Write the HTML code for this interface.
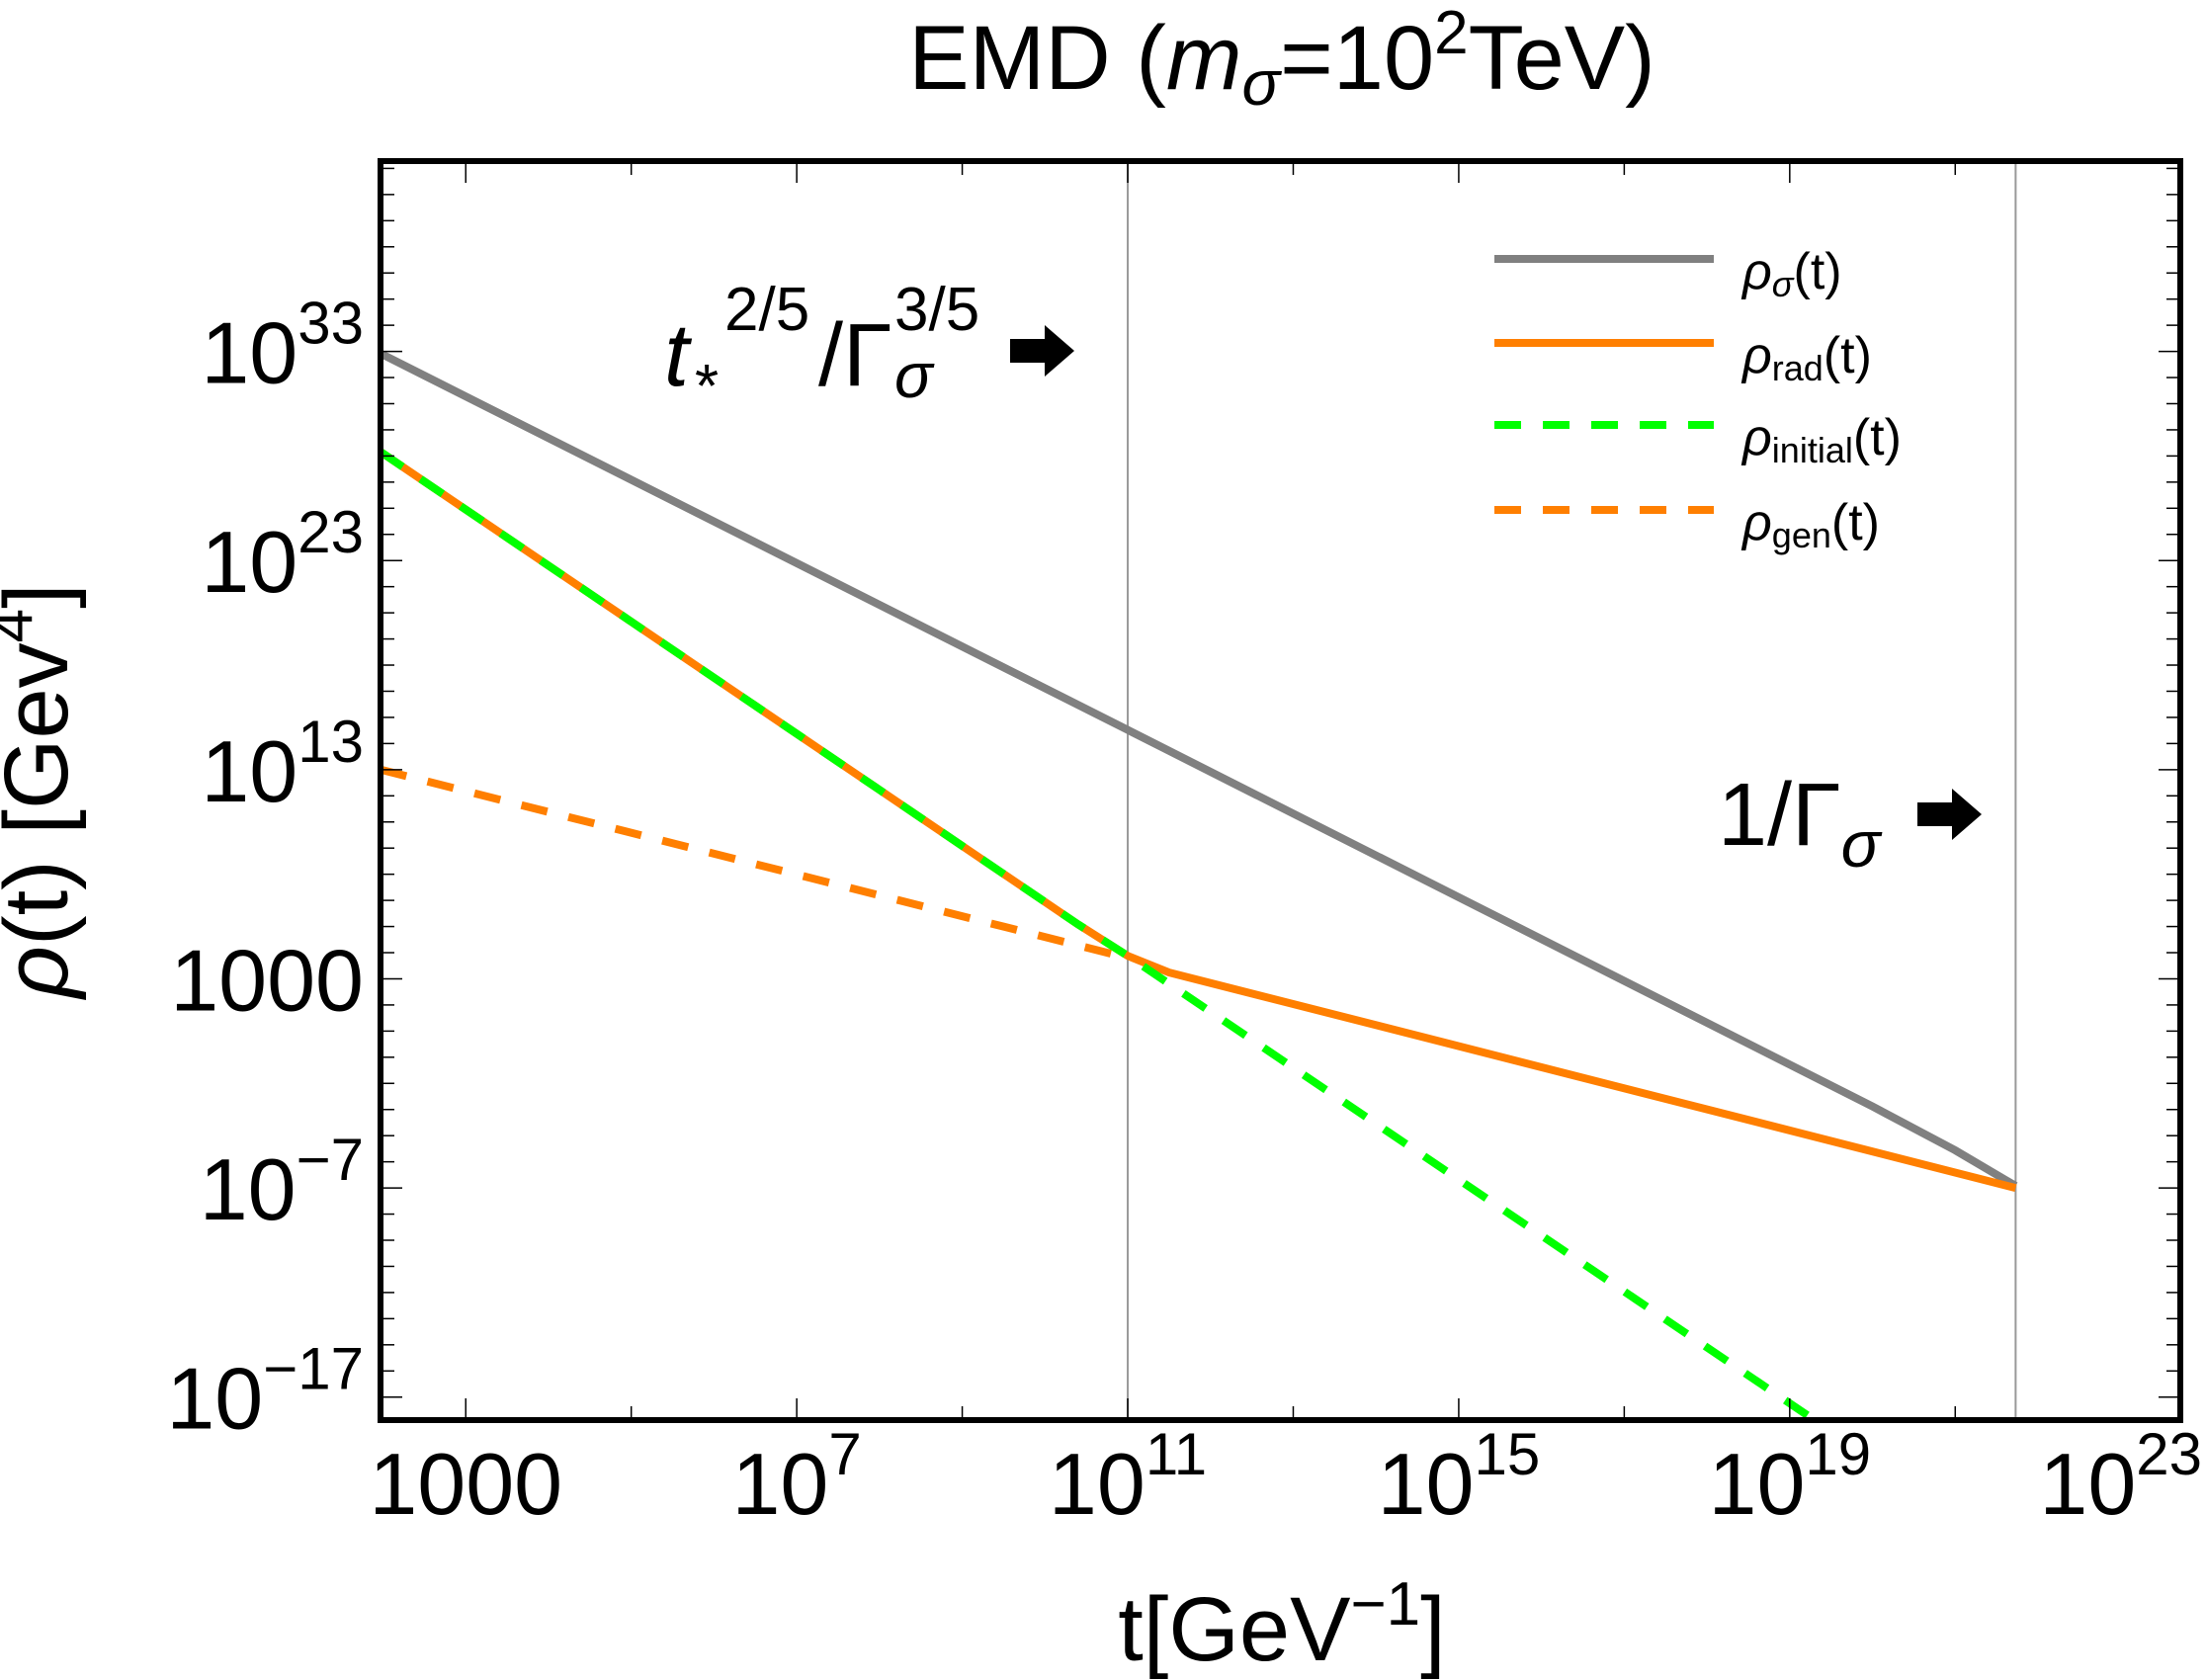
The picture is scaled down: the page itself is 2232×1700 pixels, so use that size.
<!DOCTYPE html>
<html><head><meta charset="utf-8"><style>
html,body{margin:0;padding:0;background:#fff;}
svg{display:block;font-family:"Liberation Sans",sans-serif;}
</style></head><body>
<svg id="chart" width="2232" height="1700" viewBox="0 0 2232 1700">
<g id="grid"></g>
<g id="series"></g>
<g id="frame"></g>
<text x="1297" y="90" font-size="92" text-anchor="middle">EMD (<tspan font-style="italic">m</tspan><tspan font-style="italic" font-size="64" dy="16">σ</tspan><tspan dy="-16">=10</tspan><tspan font-size="62" dy="-36">2</tspan><tspan dy="36">TeV)</tspan></text>
<text x="68" y="800" font-size="92" text-anchor="middle" transform="rotate(-90 68 800)"><tspan font-style="italic">ρ</tspan>(t) [Gev<tspan font-size="62" dy="-36">4</tspan><tspan dy="36">]</tspan></text>
<text x="1297" y="1680" font-size="92" text-anchor="middle">t[GeV<tspan font-size="62" dy="-36">−1</tspan><tspan dy="36">]</tspan></text>
<g font-size="90">
<text x="672" y="390" font-style="italic">t</text>
<text x="703" y="412" font-size="62">*</text>
<text x="733" y="334" font-size="62">2/5</text>
<text x="828" y="390">/Γ</text>
<text x="905" y="334" font-size="62">3/5</text>
<text x="905" y="402" font-size="64" font-style="italic">σ</text>
<polygon points="1022,343 1057,343 1057,329 1087,355 1057,381 1057,367 1022,367" fill="#000"/>
</g>
<g>
<text x="1738" y="855" font-size="90">1/Γ<tspan font-size="66" font-style="italic" dy="22">σ</tspan></text>
<polygon points="1940,812 1975,812 1975,798 2005,824 1975,850 1975,836 1940,836" fill="#000"/>
</g>
<g id="legend">
<line x1="1512" y1="262" x2="1734" y2="262" stroke="#808080" stroke-width="8"/>
<text x="1763" y="292" font-size="52"><tspan font-style="italic">ρ</tspan><tspan font-style="italic" font-size="36" dy="8">σ</tspan><tspan dy="-8">(t)</tspan></text>
<line x1="1512" y1="347" x2="1734" y2="347" stroke="#ff7f00" stroke-width="8"/>
<text x="1763" y="377" font-size="52"><tspan font-style="italic">ρ</tspan><tspan font-size="36" dy="8">rad</tspan><tspan dy="-8">(t)</tspan></text>
<line x1="1512" y1="430" x2="1734" y2="430" stroke="#00ff00" stroke-width="8" stroke-dasharray="27,22"/>
<text x="1763" y="460" font-size="52"><tspan font-style="italic">ρ</tspan><tspan font-size="36" dy="8">initial</tspan><tspan dy="-8">(t)</tspan></text>
<line x1="1512" y1="516" x2="1734" y2="516" stroke="#ff7f00" stroke-width="8" stroke-dasharray="27,22"/>
<text x="1763" y="546" font-size="52"><tspan font-style="italic">ρ</tspan><tspan font-size="36" dy="8">gen</tspan><tspan dy="-8">(t)</tspan></text>
</g>
</svg>
<script>
const xTickExps = [3, 7, 11, 15, 19, 23];
const xTickLabels = ["1000", "10", "10", "10", "10", "10"];
const xTickSups = ["", "7", "11", "15", "19", "23"];
const yTickExps = [33, 23, 13, 3, -7, -17];
const yTickLabels = ["10", "10", "10", "1000", "10", "10"];
const yTickSups = ["33", "23", "13", "", "−7", "−17"];
const vLines = [11, 21.73];
const sigmaLogT = [1.97, 11, 20, 21, 21.73];
const sigmaLogRho = [32.9, 14.9, -3.1, -5.2, -6.9];
const radLogT = [1.97, 10.4, 11, 11.5, 12, 21.73];
const radLogRho = [28.2, 5.6, 4.1, 3.3, 2.8, -7.0];
const initLogT = [1.97, 10.4, 11, 19.3];
const initLogRho = [28.2, 5.6, 4.1, -18.1];
const genLogT = [1.97, 11];
const genLogRho = [13.0, 4.0];

const L=385,R=2206,T=163,B=1437;
const xMin=1.97,xMax=23.72,yMin=-18.1,yMax=42.1;
const X=v=>L+(v-xMin)/(xMax-xMin)*(R-L);
const Y=v=>B-(v-yMin)/(yMax-yMin)*(B-T);
const NS="http://www.w3.org/2000/svg";
function mk(tag,attrs,parent){const e=document.createElementNS(NS,tag);for(const k in attrs)e.setAttribute(k,attrs[k]);parent.appendChild(e);return e;}
const grid=document.getElementById('grid'),series=document.getElementById('series'),frame=document.getElementById('frame');

vLines.forEach((v,i)=>{
  const l=mk('line',{x1:X(v),x2:X(v),y1:T,y2:B,stroke:'#999',"stroke-width":2},grid);
  
  
});

const cp=mk('clipPath',{id:'clip'},series);
mk('rect',{x:L,y:T,width:R-L,height:B-T},cp);
series.setAttribute('clip-path','url(#clip)');
function path(xs,ys,attrs,name){
  let d='';xs.forEach((x,i)=>{d+=(i?'L':'M')+X(x).toFixed(1)+','+Y(Math.max(ys[i],yMin)).toFixed(1);});
  const p=mk('path',Object.assign({d:d,fill:'none'},attrs),series);
  
  
}
path(sigmaLogT,sigmaLogRho,{stroke:'#808080','stroke-width':8},'series-rho-sigma');
path(genLogT,genLogRho,{stroke:'#ff7f00','stroke-width':8,'stroke-dasharray':'27,22'},'series-rho-gen');
path(radLogT,radLogRho,{stroke:'#ff7f00','stroke-width':8},'series-rho-rad');
path(initLogT,initLogRho,{stroke:'#00ff00','stroke-width':8,'stroke-dasharray':'27,22'},'series-rho-initial');

const fr=mk('rect',{x:L,y:T,width:R-L,height:B-T,fill:'none',stroke:'#000','stroke-width':6},frame);


for(let e=4;e<=23;e+=2){const x=X(e-1);const major=(e-1)%4===3;
  mk('line',{x1:x,x2:x,y1:B,y2:B-(major?22:14),stroke:'#000','stroke-width':1.5},frame);
  mk('line',{x1:x,x2:x,y1:T,y2:T+(major?22:14),stroke:'#000','stroke-width':1.5},frame);}
for(let v=-17-1.25;v<=42;v+=1.25){if(v<yMin||v>yMax)continue;const y=Y(v);const major=Math.abs(((v+17)%10+10)%10)<0.01;
  mk('line',{x1:L,x2:L+(major?22:14),y1:y,y2:y,stroke:'#000','stroke-width':1.5},frame);
  mk('line',{x1:R,x2:R-(major?22:14),y1:y,y2:y,stroke:'#000','stroke-width':1.5},frame);}
xTickExps.forEach((e,i)=>{
  const t=mk('text',{x:X(e),y:1532,'font-size':88,'text-anchor':'middle'},frame);
  
  
  t.textContent=xTickLabels[i];
  if(xTickSups[i]){const s=mk('tspan',{'font-size':60,dy:-40},t);s.textContent=xTickSups[i];}
});
yTickExps.forEach((e,i)=>{
  const t=mk('text',{x:368,y:Y(e)+32,'font-size':88,'text-anchor':'end'},frame);
  
  
  t.textContent=yTickLabels[i];
  if(yTickSups[i]){const s=mk('tspan',{'font-size':60,dy:-40},t);s.textContent=yTickSups[i];}
});
</script>
</body></html>
